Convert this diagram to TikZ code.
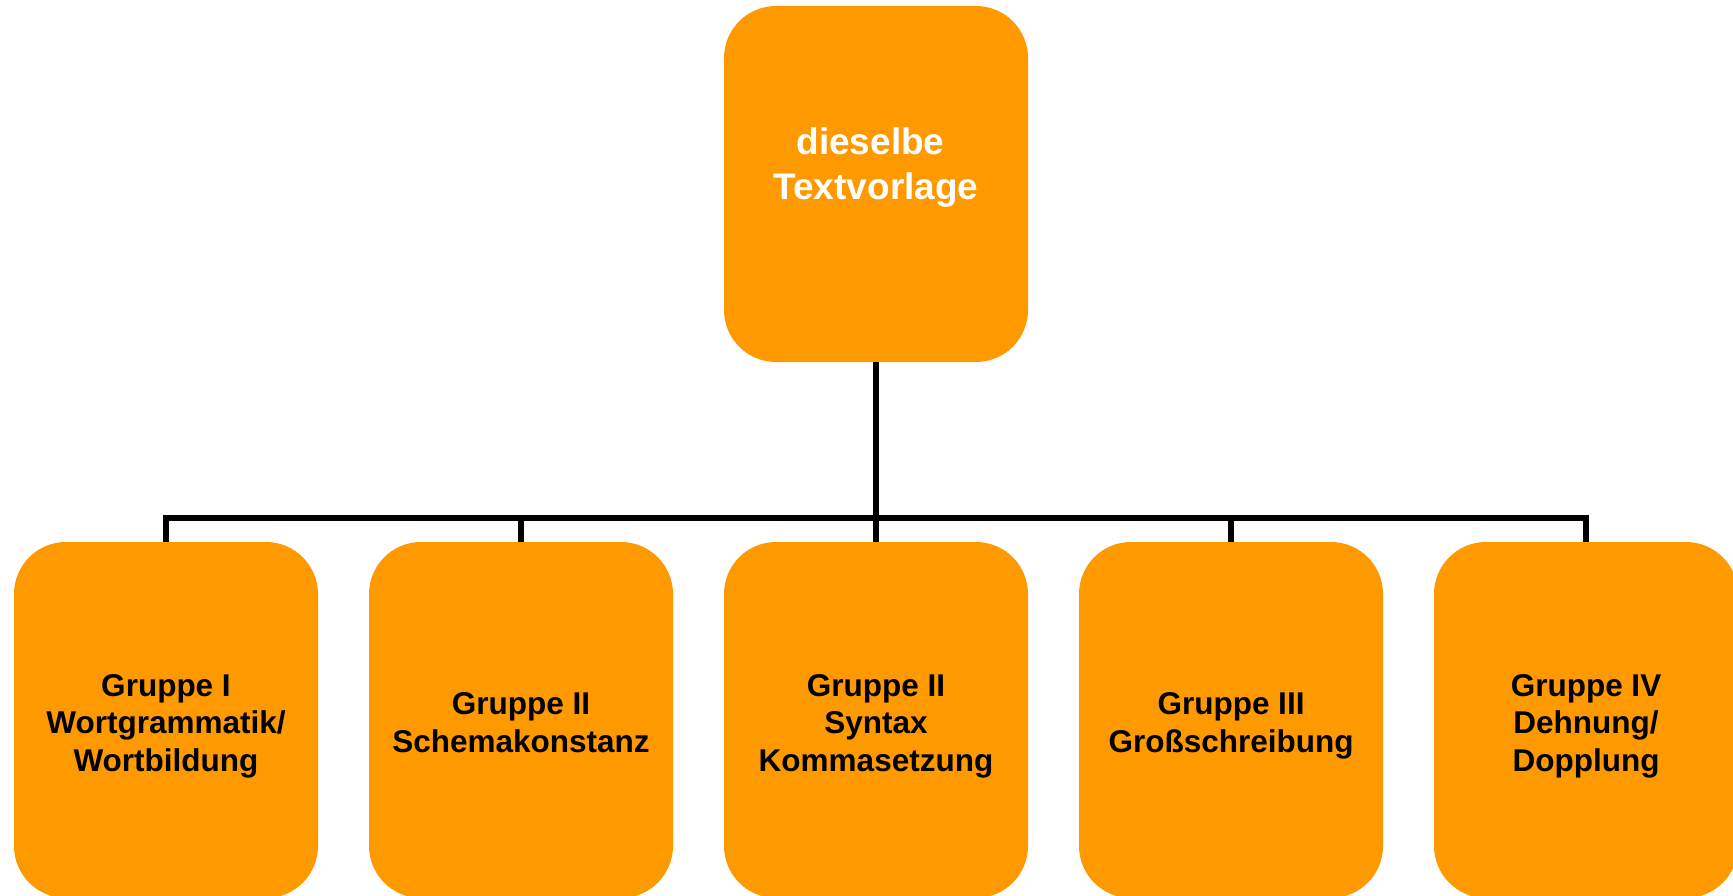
\documentclass[tikz,border=0pt]{standalone}
\usepackage{fontspec}
\setmainfont{Liberation Sans}
\definecolor{boxorange}{RGB}{255,153,0}
\newcommand\grptext[1]{\rule{0pt}{34pt}#1\rule[-7pt]{0pt}{7pt}}
\tikzset{
  x=1pt, y=-1pt,
  grp/.style={fill=boxorange, draw=none, rounded corners=52pt, minimum width=304pt, minimum height=356pt, inner sep=0pt, align=center, font=\fontsize{31.5}{37.5}\selectfont\bfseries, text=black},
  conn/.style={line width=6pt, draw=black, line join=miter}
}
\begin{document}
\begin{tikzpicture}
\useasboundingbox (0,0) rectangle (1733,896);
\node[grp] (top) at (876,184) {};
\node[align=center, text=white, font=\fontsize{37}{45}\selectfont\bfseries] (toptext) at (876,168) {dieselbe\hspace*{0.3em}\\Textvorlage};
\coordinate (bus) at (0,518);
\node[grp] (b1) at (166,720) {\grptext{Gruppe I\\Wortgrammatik/\\Wortbildung}};
\node[grp] (b2) at (521,720) {\grptext{Gruppe II\\Schemakonstanz}};
\node[grp] (b3) at (876,720) {\grptext{Gruppe II\\Syntax\\Kommasetzung}};
\node[grp] (b4) at (1231,720) {\grptext{Gruppe III\\Großschreibung}};
\node[grp] (b5) at (1586,720) {\grptext{Gruppe IV\\Dehnung/\\Dopplung}};
\draw[conn] (top.south) -- (top.south |- bus);
\draw[conn] (b1.north) -- (b1.north |- bus) -- (b5.north |- bus) -- (b5.north);
\draw[conn] (b2.north) -- (b2.north |- bus);
\draw[conn] (b3.north) -- (b3.north |- bus);
\draw[conn] (b4.north) -- (b4.north |- bus);
\end{tikzpicture}
\end{document}
